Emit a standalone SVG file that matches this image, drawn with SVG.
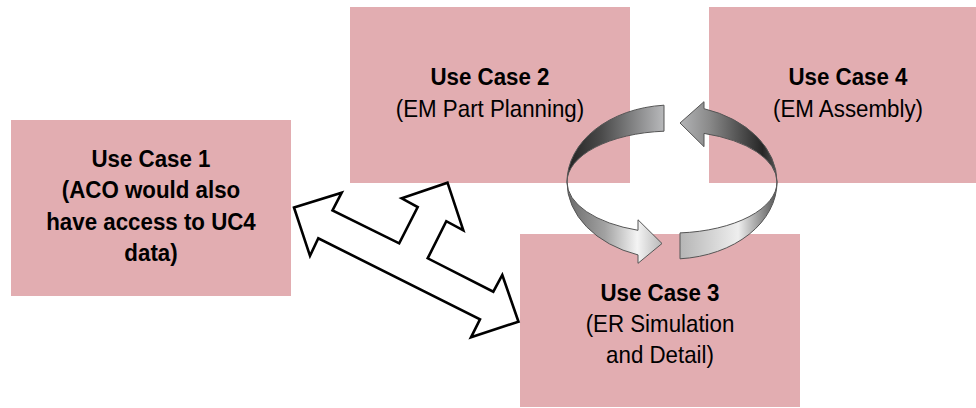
<svg xmlns="http://www.w3.org/2000/svg" width="976" height="408" viewBox="0 0 976 408">
<style>
.box{fill:#e2adb1;}
.t{font-family:"Liberation Sans",Arial,sans-serif;font-size:24px;fill:#000;text-anchor:middle;}
.b{font-weight:bold;}
.ring{stroke:#555;stroke-width:1;}
</style>
<defs>
<linearGradient id="g1u" gradientUnits="userSpaceOnUse" x1="567" y1="0" x2="664" y2="0">
<stop offset="0" stop-color="#222"/><stop offset="0.35" stop-color="#4a4a4a"/><stop offset="1" stop-color="#b8b9bb"/>
</linearGradient>
<linearGradient id="g1l" gradientUnits="userSpaceOnUse" x1="567" y1="0" x2="662" y2="0">
<stop offset="0" stop-color="#6a6a6a"/><stop offset="0.4" stop-color="#a2a2a2"/><stop offset="0.74" stop-color="#f4f4f4"/><stop offset="1" stop-color="#b8b8b8"/>
</linearGradient>
<linearGradient id="g2l" gradientUnits="userSpaceOnUse" x1="680" y1="0" x2="777" y2="0">
<stop offset="0" stop-color="#b5b5b5"/><stop offset="0.6" stop-color="#eeeeee"/><stop offset="0.9" stop-color="#7a7a7a"/><stop offset="1" stop-color="#555"/>
</linearGradient>
<linearGradient id="g2u" gradientUnits="userSpaceOnUse" x1="680" y1="0" x2="777" y2="0">
<stop offset="0" stop-color="#b3b4b6"/><stop offset="0.3" stop-color="#8a8a8a"/><stop offset="0.85" stop-color="#262626"/><stop offset="1" stop-color="#555"/>
</linearGradient>
</defs>
<rect width="976" height="408" fill="#fff"/>
<g id="uc1">
<rect class="box" x="11" y="120" width="280" height="176"/>
<g transform="translate(151,0) scale(0.93,1)">
<text class="t b" x="0" y="167">Use Case 1</text>
<text class="t b" x="0" y="198.5">(ACO would also</text>
<text class="t b" x="0" y="230">have access to UC4</text>
<text class="t b" x="0" y="261.5">data)</text>
</g>
</g>
<g id="uc2">
<rect class="box" x="350" y="7" width="280" height="176"/>
<g transform="translate(490,0) scale(0.93,1)">
<text class="t b" x="0" y="85">Use Case 2</text>
<text class="t" x="0" y="117.5">(EM Part Planning)</text>
</g>
</g>
<g id="uc4">
<rect class="box" x="709" y="7" width="278" height="176"/>
<g transform="translate(848,0) scale(0.93,1)">
<text class="t b" x="0" y="85">Use Case 4</text>
<text class="t" x="0" y="117.5">(EM Assembly)</text>
</g>
</g>
<g id="uc3">
<rect class="box" x="520" y="234" width="280" height="173"/>
<g transform="translate(660,0) scale(0.93,1)">
<text class="t b" x="0" y="301">Use Case 3</text>
<text class="t" x="0" y="332">(ER Simulation</text>
<text class="t" x="0" y="363">and Detail)</text>
</g>
</g>
<g id="connectors">
<polygon points="294,207.5 341.7,192.7 332.5,210.3 399.2,243.3 417.7,207 401.7,198.3 447.5,182.7 463.3,230.3 446.3,221.2 427.7,258.3 493.3,291.7 502.3,275 518.5,321.7 471,337.3 480,319.3 318.3,238.3 310,255.8" fill="#fff" stroke="#000" stroke-width="2.6" stroke-linejoin="miter"/>
<g id="cycle">
<path class="ring" fill="url(#g1u)" d="M664,105.2 A105,77 0 0 0 567,182 A105,51 0 0 1 664,131.2 Z"/>
<path class="ring" fill="url(#g1l)" d="M567,182 A105,77 0 0 0 638,254.9 L638,263.3 L662,243.5 L638,219.8 L638,230.3 A105,51 0 0 1 567,182 Z"/>
<path class="ring" fill="url(#g2l)" d="M680,232.9 L680,258.8 A105,77 0 0 0 777,182 A105,51 0 0 1 680,232.9 Z"/>
<path class="ring" fill="url(#g2u)" d="M777,182 A105,77 0 0 0 704,108.7 L704,101.7 L680,123 L704,146.7 L704,133.4 A105,51 0 0 1 777,182 Z"/>
</g>
</g>
</svg>
